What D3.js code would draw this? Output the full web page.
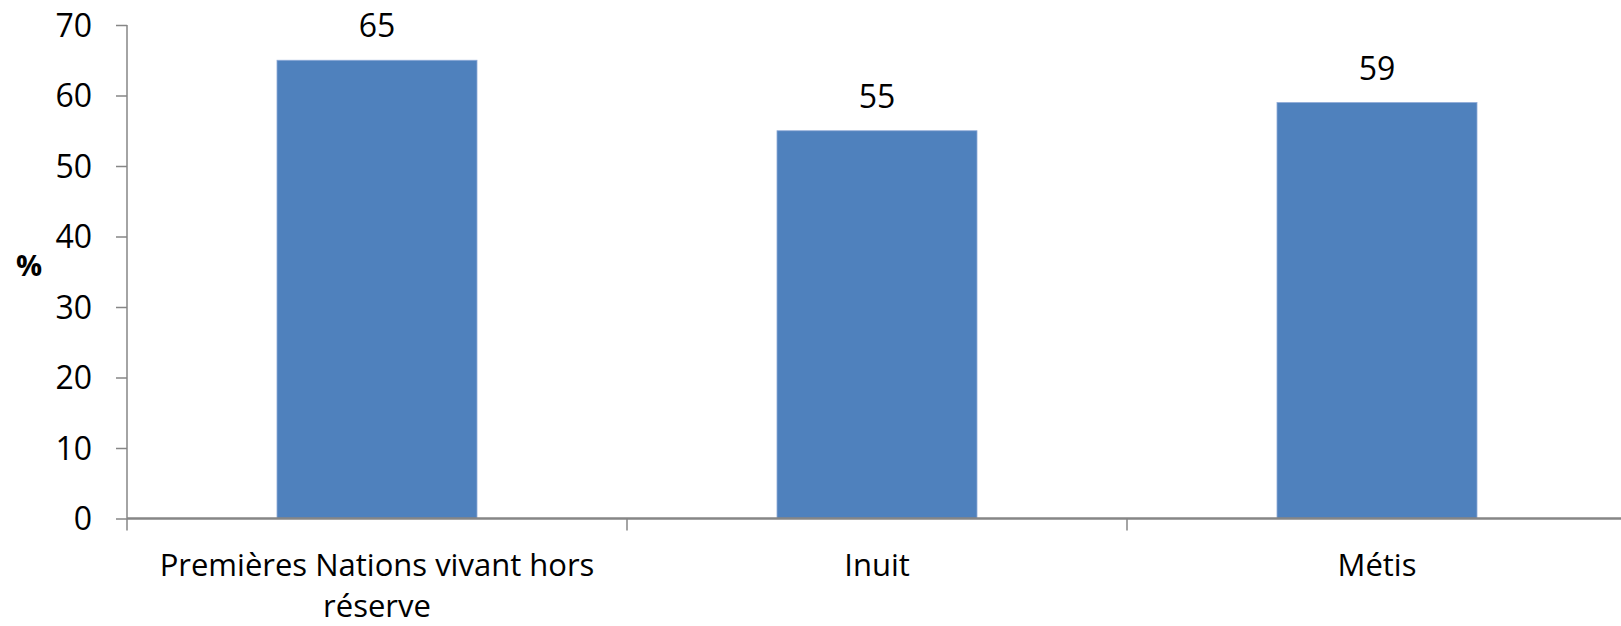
<!DOCTYPE html>
<html>
<head>
<meta charset="utf-8">
<script src="https://d3js.org/d3.v7.min.js"></script>
<style>
  body { margin: 0; background: #fff; }
  svg { display: block; }
</style>
</head>
<body>
<div id="chart"></div>
<script>
// data
var categories = [["Premières Nations vivant hors", "réserve"], ["Inuit"], ["Métis"]];
var values = [65, 55, 59];
var yTicks = [0, 10, 20, 30, 40, 50, 60, 70];

var W = 1621, H = 626;
var margin = {top: 25, left: 127};
var plotW = 1500, plotH = 493.5;

var svg = d3.select("#chart").append("svg")
    .attr("width", W)
    .attr("height", H)
    .style("font-family", "'Open Sans', sans-serif");

var g = svg.append("g").attr("transform", `translate(${margin.left},${margin.top})`);

var x = d3.scaleBand().domain(d3.range(values.length)).range([0, plotW]).paddingInner(0.6).paddingOuter(0.3);
var y = d3.scaleLinear().domain([0, 70]).range([plotH, 0]);

// bars
g.selectAll(".bar").data(values).enter().append("rect")
    .attr("class", "bar")
    .attr("x", (d, i) => x(i))
    .attr("y", d => y(d))
    .attr("width", x.bandwidth())
    .attr("height", d => plotH - y(d))
    .attr("fill", "#4F81BD")
    .attr("stroke", "#8EAAD8")
    .attr("stroke-width", 0.8);

// value labels
g.selectAll(".val").data(values).enter().append("text")
    .attr("x", (d, i) => x(i) + x.bandwidth() / 2)
    .attr("y", d => y(d) - 23)
    .attr("text-anchor", "middle")
    .style("font-size", "32px")
    .attr("fill", "#000")
    .text(d => d);

// y axis
var yAxis = g.append("g")
    .call(d3.axisLeft(y).tickValues(yTicks).tickSize(11).tickPadding(24));
yAxis.selectAll("line, path").attr("stroke", "#868686").attr("stroke-width", 1.5);
yAxis.select(".domain").attr("d", `M0,${plotH}V0`);
yAxis.selectAll("text").style("font-size", "32px").attr("fill", "#000")
    .style("font-family", "'Open Sans', sans-serif").attr("dy", "0.35em");

// x axis
var xAxis = g.append("g").attr("transform", `translate(0,${plotH})`);
xAxis.append("line").attr("x1", 0).attr("x2", plotW).attr("y1", 0).attr("y2", 0)
    .attr("stroke", "#868686").attr("stroke-width", 2.5);
var xBounds = d3.range(values.length + 1).map(i => i * plotW / values.length);
xAxis.selectAll(".xt").data(xBounds).enter().append("line")
    .attr("x1", d => d).attr("x2", d => d).attr("y1", 0).attr("y2", 12)
    .attr("stroke", "#868686").attr("stroke-width", 1.5);

// category labels
xAxis.selectAll(".cat").data(categories).enter().append("text")
    .attr("text-anchor", "middle")
    .attr("transform", (d, i) => `translate(${x(i) + x.bandwidth() / 2},0)`)
    .style("font-size", "31px")
    .attr("fill", "#000")
    .each(function(d) {
        d3.select(this).selectAll("tspan").data(d).enter().append("tspan")
            .attr("x", 0)
            .attr("y", (t, j) => 57 + j * 41)
            .text(t => t);
    });

// y title
svg.append("text")
    .attr("x", 29)
    .attr("y", 276)
    .attr("text-anchor", "middle")
    .style("font-size", "29px")
    .style("font-weight", "bold")
    .text("%");
</script>
</body>
</html>
